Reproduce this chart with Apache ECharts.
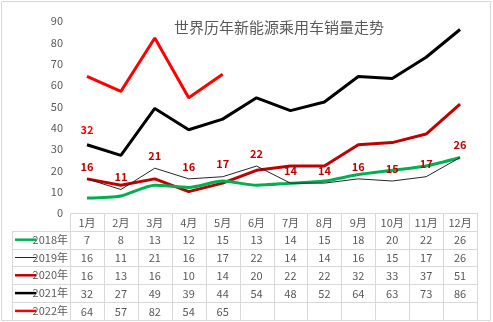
<!DOCTYPE html>
<html>
<head>
<meta charset="utf-8">
<script src="https://cdn.jsdelivr.net/npm/echarts@6/dist/echarts.min.js"></script>
<style>
  html, body { margin: 0; padding: 0; background: #fff; }
  #chart { width: 493px; height: 322px; }
</style>
</head>
<body>
<div id="chart"></div>
<script>
// Monthly new-energy passenger car sales (units shown as in the source table)
const months = ['1月', '2月', '3月', '4月', '5月', '6月', '7月', '8月', '9月', '10月', '11月', '12月'];
const yTicks = [0, 10, 20, 30, 40, 50, 60, 70, 80, 90];

const sales2018 = [7, 8, 13, 12, 15, 13, 14, 15, 18, 20, 22, 26];
const sales2019 = [16, 11, 21, 16, 17, 22, 14, 14, 16, 15, 17, 26];
const sales2020 = [16, 13, 16, 10, 14, 20, 22, 22, 32, 33, 37, 51];
const sales2021 = [32, 27, 49, 39, 44, 54, 48, 52, 64, 63, 73, 86];
const sales2022 = [64, 57, 82, 54, 65, null, null, null, null, null, null, null];

const seriesNames = ['2018年', '2019年', '2020年', '2021年', '2022年'];
const seriesData = [sales2018, sales2019, sales2020, sales2021, sales2022];
const seriesColors = ['#00b050', '#262626', '#c00000', '#000000', '#ff0000'];
const seriesWidths = [3, 1, 3, 3, 3];

// layout
const W = 493, H = 322;
const gridLeft = 70, gridRight = 16, gridTop = 21, gridBottom = 109;
const axisY = H - gridBottom;          // baseline of the plot / top of the table
const rowH = 17.8;
const colW = (W - gridLeft - gridRight) / months.length;
const legendColLeft = 12;
const tableLine = '#d9d9d9';
const textColor = '#595959';
const font = '"Noto Sans CJK SC", "Noto Sans", sans-serif';

const chart = echarts.init(document.getElementById('chart'), null, { renderer: 'canvas' });

// x axes: one for the month header, one per table row of values
const xAxes = [{
  type: 'category',
  data: months,
  boundaryGap: true,
  position: 'bottom',
  axisLine: { show: false },
  axisTick: { show: false },
  axisLabel: { color: textColor, fontSize: 11, fontFamily: font, margin: 4, interval: 0 }
}];
seriesData.forEach((row, i) => {
  xAxes.push({
    type: 'category',
    data: row.map(v => (v == null ? '' : String(v))),
    boundaryGap: true,
    position: 'bottom',
    offset: rowH * (i + 1),
    axisLine: { show: false },
    axisTick: { show: false },
    axisLabel: { color: textColor, fontSize: 11, fontFamily: font, margin: 4, interval: 0 }
  });
});

const valueLabel = (color, distance) => ({
  show: true, position: 'top', distance: distance,
  color: color, fontSize: 11, fontWeight: 'bold', fontFamily: font
});

const series = seriesData.map((row, i) => {
  const s = {
    name: seriesNames[i],
    type: 'line',
    xAxisIndex: 0,
    data: row,
    symbol: 'circle',
    symbolSize: 0,
    showSymbol: true,
    smooth: i === 0 ? 0.25 : false,
    lineStyle: { color: seriesColors[i], width: seriesWidths[i] },
    itemStyle: { color: seriesColors[i] },
    label: { show: false },
    z: 10 - i,
    animation: false
  };
  if (i === 1) {
    s.label = valueLabel('#c00000', 7);
    s.z = 12;
  }
  if (i === 3) {
    // only the January value carries a label on this line
    s.data = row.map((v, j) => j === 0 ? { value: v, label: valueLabel('#ff0000', 9) } : v);
  }
  return s;
});

// table grid lines and row headers
const graphics = [];
const tableBottom = axisY + rowH * (seriesNames.length + 1);
const tableRight = W - gridRight;
// horizontal rules
graphics.push({ type: 'line', shape: { x1: gridLeft, y1: axisY + 0.5, x2: tableRight, y2: axisY + 0.5 }, style: { stroke: tableLine, lineWidth: 1 } });
for (let r = 1; r <= seriesNames.length + 1; r++) {
  const y = Math.round(axisY + rowH * r) + 0.5;
  graphics.push({ type: 'line', shape: { x1: legendColLeft, y1: y, x2: tableRight, y2: y }, style: { stroke: tableLine, lineWidth: 1 } });
}
// vertical rules
for (let c = 0; c <= months.length; c++) {
  const x = Math.round(gridLeft + colW * c) + 0.5;
  graphics.push({ type: 'line', shape: { x1: x, y1: axisY, x2: x, y2: tableBottom }, style: { stroke: tableLine, lineWidth: 1 } });
}
graphics.push({ type: 'line', shape: { x1: legendColLeft + 0.5, y1: axisY + rowH, x2: legendColLeft + 0.5, y2: tableBottom }, style: { stroke: tableLine, lineWidth: 1 } });
// row headers with line keys
seriesNames.forEach((name, i) => {
  const cy = axisY + rowH * (i + 1) + rowH / 2;
  graphics.push({ type: 'line', shape: { x1: 15, y1: cy, x2: 36, y2: cy }, style: { stroke: seriesColors[i], lineWidth: seriesWidths[i] === 1 ? 1 : 2.5 } });
  graphics.push({ type: 'text', x: 68, y: cy, style: { text: name, fill: textColor, fontSize: 11, fontFamily: font, align: 'right', verticalAlign: 'middle' } });
});
// outer frame
graphics.push({ type: 'rect', shape: { x: 1.5, y: 1.5, width: W - 4, height: H - 3 }, style: { fill: 'none', stroke: '#d9d9d9', lineWidth: 1 }, z: -1 });

chart.setOption({
  animation: false,
  backgroundColor: '#ffffff',
  title: {
    text: '世界历年新能源乘用车销量走势',
    left: 169, top: 15,
    textStyle: { color: textColor, fontSize: 15, fontWeight: 'normal', fontFamily: font }
  },
  grid: { left: gridLeft, right: gridRight, top: gridTop, bottom: gridBottom, containLabel: false },
  xAxis: xAxes,
  yAxis: {
    type: 'value',
    min: yTicks[0],
    max: yTicks[yTicks.length - 1],
    interval: yTicks[1] - yTicks[0],
    axisLine: { show: false },
    axisTick: { show: false },
    splitLine: { show: false },
    axisLabel: { color: textColor, fontSize: 11, fontFamily: font, margin: 7 }
  },
  series: series,
  graphic: graphics
});
</script>
</body>
</html>
